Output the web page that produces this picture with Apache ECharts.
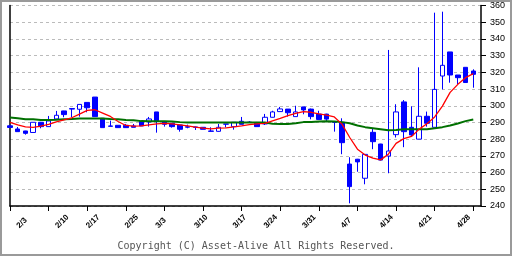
<!DOCTYPE html>
<html><head><meta charset="utf-8">
<script src="https://cdn.jsdelivr.net/npm/echarts@6/dist/echarts.min.js"></script>
<style>html,body{margin:0;padding:0;background:#fff}#c{width:512px;height:256px}#f{position:absolute;left:0;top:0;width:512px;height:256px;box-sizing:border-box;border:2px solid #9a9a9a;pointer-events:none}</style>
</head><body><div id="c"></div><div id="f"></div>
<script>
const categories = ["2/3","2/4","2/5","2/6","2/7","2/10","2/11","2/12","2/13","2/14","2/17","2/18","2/19","2/20","2/21","2/24","2/25","2/26","2/27","2/28","3/3","3/4","3/5","3/6","3/7","3/10","3/11","3/12","3/13","3/14","3/17","3/18","3/19","3/20","3/21","3/24","3/25","3/26","3/27","3/28","3/31","4/1","4/2","4/3","4/4","4/7","4/8","4/9","4/10","4/11","4/14","4/15","4/16","4/17","4/18","4/21","4/22","4/23","4/24","4/25","4/28",""];
const tickLabels = ["2/3","2/10","2/17","2/25","3/3","3/10","3/17","3/24","3/31","4/7","4/14","4/21","4/28"];
const labelSlots = [0,5,9,14,18,23,28,32,37,42,47,52,57];
const openP  = [288.0,286.1,284.9,284.0,290.1,287.5,292.1,296.9,298.3,297.9,302.0,305.2,292.5,287.9,288.3,288.3,287.9,290.7,290.3,296.3,290.3,289.5,288.5,287.4,287.3,287.1,284.9,284.7,289.1,287.5,290.7,290.2,290.0,289.1,293.1,296.5,298.0,293.5,299.3,298.0,295.0,295.0,290.3,290.1,265.1,268.0,256.6,284.1,277.1,269.9,282.7,302.3,287.1,280.0,293.7,287.1,317.8,332.2,318.4,323.0,320.8];
const closeP = [287.0,284.5,283.5,290.1,287.5,290.9,294.3,294.7,298.0,300.8,298.8,293.5,286.9,287.7,286.9,286.9,287.1,287.9,292.1,290.7,288.9,287.5,285.9,287.2,287.1,285.9,284.7,287.1,289.0,290.1,288.9,290.0,287.5,293.1,296.3,298.1,295.8,296.3,297.5,293.5,291.8,292.0,290.1,277.9,251.6,266.4,270.9,278.5,267.5,272.9,296.3,284.5,282.5,293.7,289.5,309.8,324.2,318.4,316.8,313.9,318.8];
const lowP   = [286.8,284.5,282.7,283.9,286.5,287.4,292.1,293.1,293.1,293.5,296.1,293.5,286.9,287.7,286.9,286.9,287.1,287.9,287.5,283.9,287.5,286.9,284.5,286.5,285.5,285.9,284.7,284.5,287.0,285.7,288.9,290.0,287.5,288.5,293.0,296.5,293.5,293.5,294.9,291.9,291.8,290.5,284.5,271.0,241.6,260.5,253.0,274.0,267.3,259.6,281.0,275.2,281.5,280.0,287.5,287.1,309.8,313.8,312.8,313.9,310.8];
const highP  = [288.3,287.3,285.0,290.1,290.3,293.9,296.9,297.0,298.3,300.8,302.0,305.2,292.5,291.1,288.3,289.1,289.1,290.7,293.3,296.3,290.3,289.5,288.5,288.7,287.5,287.1,287.1,289.1,289.1,290.1,293.3,290.8,290.3,295.1,297.0,299.3,298.0,300.0,299.4,298.3,297.0,295.2,290.5,292.5,269.2,268.2,271.0,286.2,277.2,333.4,300.9,303.4,299.7,323.0,296.5,355.7,356.3,332.2,318.4,323.0,321.8];
const maShort = [290.0,288.5,287.4,287.1,287.8,288.8,290.3,291.6,292.8,295.0,297.2,297.6,295.6,293.6,290.6,288.2,287.8,287.9,288.5,289.2,289.5,289.1,288.6,288.0,287.2,286.6,286.2,286.6,286.8,287.4,288.0,288.7,289.2,289.5,291.0,292.4,294.1,295.4,296.5,296.1,295.1,294.4,293.3,289.0,281.0,274.0,270.5,268.6,267.6,271.0,277.5,280.3,281.6,286.0,289.2,293.3,299.8,308.0,312.8,316.8,319.2];
const maLong = [293.0,292.5,291.9,291.9,291.5,291.5,291.6,291.9,292.0,292.3,292.3,292.3,292.3,292.0,291.9,291.4,291.3,290.8,290.7,290.7,290.7,290.6,290.2,290.0,290.0,290.0,290.0,290.0,290.0,290.0,290.0,290.0,290.0,290.0,289.2,289.1,289.1,289.5,290.2,290.3,290.6,290.7,290.6,290.2,289.5,288.2,287.2,286.6,286.0,285.4,285.5,285.9,285.9,285.9,286.0,286.5,287.2,288.2,289.4,290.8,291.8];
const yMin = 240, yMax = 360, yStep = 10;

const candleData = openP.map((o,i)=>[o, closeP[i], lowP[i], highP[i]]);
const chart = echarts.init(document.getElementById('c'), null, {renderer:'canvas'});
chart.setOption({
  animation:false,
  backgroundColor:'#fff',
  title:{text:'Copyright (C) Asset-Alive All Rights Reserved.', left:'center', top:236,
    textStyle:{fontFamily:'DejaVu Sans Mono', fontSize:10, fontWeight:'normal', color:'#555'}},
  grid:[{left:10,right:31,top:5.5,bottom:50},{left:18,right:23,top:5.5,bottom:50}],
  xAxis:[
    {type:'category', gridIndex:0, data:categories, boundaryGap:false,
     axisLine:{lineStyle:{color:'#000',width:1.5}},
     axisTick:{interval:4, length:5, lineStyle:{color:'#000'}},
     axisLabel:{show:false}, splitLine:{show:false}},
    {type:'category', gridIndex:1, data:categories, boundaryGap:false,
     axisLine:{show:false}, axisTick:{show:false}, splitLine:{show:false},
     axisLabel:{interval:(i)=>labelSlots.indexOf(i)>=0,
       formatter:(v,i)=>tickLabels[labelSlots.indexOf(i)],
       rotate:45, align:'left', verticalAlign:'middle', margin:21,
       fontSize:8, fontWeight:'bold', color:'#000', fontFamily:'Liberation Sans'}}
  ],
  yAxis:[
    {type:'value', gridIndex:0, position:'right', min:yMin, max:yMax, interval:yStep,
     axisLine:{show:true, lineStyle:{color:'#000',width:1.5}},
     axisTick:{show:true, length:5, lineStyle:{color:'#000'}},
     axisLabel:{margin:9, fontSize:9, color:'#000', fontFamily:'Liberation Sans'},
     splitLine:{show:true, lineStyle:{color:'#bbb', type:[3,3]}}},
    {type:'value', gridIndex:0, position:'left', min:yMin, max:yMax,
     axisLine:{show:true, lineStyle:{color:'#000',width:1.5}},
     axisTick:{show:false}, axisLabel:{show:false}, splitLine:{show:false}},
    {type:'value', gridIndex:1, show:false, min:yMin, max:yMax}
  ],
  series:[
    {type:'candlestick', xAxisIndex:0, yAxisIndex:0, data:candleData, barWidth:5,
     itemStyle:{color:'#ffffff', color0:'#0000ff', borderColor:'#0000ff', borderColor0:'#0000ff', borderWidth:1}},
    {type:'line', xAxisIndex:0, yAxisIndex:0, data:maLong, symbol:'none', z:4,
     lineStyle:{color:'#007000', width:2}},
    {type:'line', xAxisIndex:0, yAxisIndex:0, data:maShort, symbol:'none', z:5,
     lineStyle:{color:'#ff0000', width:1.3}}
  ]
});
</script></body></html>
